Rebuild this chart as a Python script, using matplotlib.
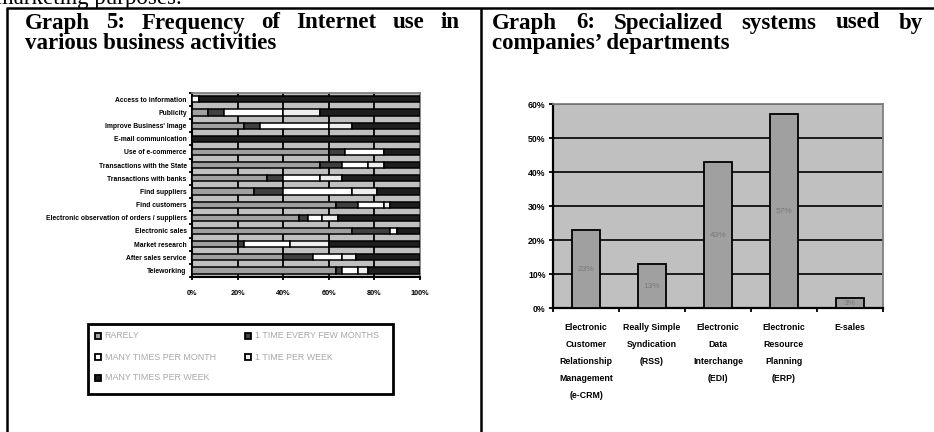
import matplotlib.pyplot as plt
import numpy as np
from matplotlib.lines import Line2D
from matplotlib.patches import Rectangle
from matplotlib.transforms import blended_transform_factory

# Graph 5: how often the internet is used for each business activity (%)
activities = [
    "Access to information",
    "Publicity",
    "Improve Business' Image",
    "E-mail communication",
    "Use of e-commerce",
    "Transactions with the State",
    "Transactions with banks",
    "Find suppliers",
    "Find customers",
    "Electronic observation of orders / suppliers",
    "Electronic sales",
    "Market research",
    "After sales service",
    "Teleworking",
]
freq_labels = [
    "RARELY",
    "1 TIME EVERY FEW MONTHS",
    "MANY TIMES PER MONTH",
    "1 TIME PER WEEK",
    "MANY TIMES PER WEEK",
]
rarely = [0, 7, 23, 0, 60, 56, 33, 27, 63, 47, 70, 20, 40, 63]
few_months = [0, 7, 7, 0, 7, 10, 7, 13, 10, 4, 17, 3, 13, 3]
many_per_month = [3, 26, 30, 0, 17, 11, 16, 30, 11, 6, 3, 20, 13, 7]
once_per_week = [0, 16, 10, 0, 0, 7, 10, 11, 3, 7, 0, 17, 6, 4]
many_per_week = [97, 44, 30, 100, 16, 16, 34, 19, 13, 36, 10, 40, 28, 23]
freq_colors = ["#a0a0a0", "#404040", "#ffffff", "#eeeeee", "#1e1e1e"]

# Graph 6: specialized systems used by departments (%)
systems = [
    "Electronic\nCustomer\nRelationship\nManagement\n(e-CRM)",
    "Really Simple\nSyndication\n(RSS)",
    "Electronic\nData\nInterchange\n(EDI)",
    "Electronic\nResource\nPlanning\n(ERP)",
    "E-sales",
]
system_usage = [23, 13, 43, 57, 3]

W, H = 934, 432


def fx(px):
    return px / W


def fy(py):
    return 1 - py / H


SERIF = "Liberation Serif"
SANS = "Liberation Sans"

fig = plt.figure(figsize=(W / 100, H / 100), dpi=100)


def hline(x0, x1, y, lw=1.8):
    fig.add_artist(Line2D([fx(x0), fx(x1)], [fy(y), fy(y)], transform=fig.transFigure,
                          color="black", lw=lw, solid_capstyle="butt"))


def vline(x, y0, y1, lw=1.8):
    fig.add_artist(Line2D([fx(x), fx(x)], [fy(y0), fy(y1)], transform=fig.transFigure,
                          color="black", lw=lw, solid_capstyle="butt"))


# surrounding document text and table rules
fig.text(fx(-4), fy(4), "marketing purposes.", family=SERIF, fontsize=16.5,
         va="baseline", ha="left")
hline(6, W, 8.3)
vline(7, 8, H)
vline(480.5, 8, H)


def justified(words, x0, x1, y, **kw):
    renderer = fig.canvas.get_renderer()
    texts = [fig.text(0, fy(y), w, va="baseline", ha="left", **kw) for w in words]
    widths = [t.get_window_extent(renderer).width for t in texts]
    gap = (x1 - x0 - sum(widths)) / (len(words) - 1)
    x = x0
    for t, w in zip(texts, widths):
        t.set_x(fx(x))
        x += w + gap


title_kw = dict(family=SERIF, fontsize=16.5, weight="bold")
justified("Graph 5: Frequency of Internet use in".split(), 25, 460, 28.5, **title_kw)
fig.text(fx(25), fy(49), "various business activities", va="baseline", **title_kw)
justified("Graph 6: Specialized systems used by".split(), 492, 923, 28.5, **title_kw)
fig.text(fx(492), fy(49), "companies\u2019 departments", va="baseline", **title_kw)

# ---- Graph 5: stacked horizontal bars ----
ax1 = fig.add_axes([fx(192), fy(277), fx(420) - fx(192), (277 - 92.7) / H])
ax1.set_facecolor("#c0c0c0")
y = np.arange(len(activities))
left = np.zeros(len(activities))
for vals, color in zip([rarely, few_months, many_per_month, once_per_week, many_per_week],
                       freq_colors):
    ax1.barh(y, vals, left=left, height=0.47, color=color, edgecolor="black",
             linewidth=1.1, zorder=3)
    left += np.array(vals)

ax1.set_xlim(0, 100)
ax1.set_ylim(len(activities) - 0.5, -0.5)
ax1.set_xticks(range(0, 101, 20))
ax1.set_xticklabels([f"{v}%" for v in range(0, 101, 20)], family=SANS, weight="bold",
                    fontsize=5.3)
ax1.xaxis.grid(True, color="black", lw=1.3, zorder=1)
ax1.set_axisbelow(True)
ax1.set_yticks(y)
ax1.set_yticklabels(activities, family=SANS, weight="bold", fontsize=4.9)
ax1.set_yticks(np.arange(-0.5, len(activities)), minor=True)
ax1.tick_params(axis="y", which="major", length=0, pad=3.8)
ax1.tick_params(axis="y", which="minor", length=2.2, width=1.3, direction="out")
ax1.tick_params(axis="x", length=2.5, width=1.3, pad=7)
for side in ("left", "bottom"):
    ax1.spines[side].set_linewidth(1.5)
for side in ("top", "right"):
    ax1.spines[side].set_color("#808080")
    ax1.spines[side].set_linewidth(1.3)

# legend drawn as a boxed key under the chart
fig.add_artist(Rectangle((fx(87.5), fy(394)), fx(392.5) - fx(87.5), (394 - 324) / H,
                         transform=fig.transFigure, facecolor="white", edgecolor="black",
                         lw=2))
key_pos = [(97.7, 336), (247.7, 336), (97.7, 357), (247.7, 357), (97.7, 378)]
for (kx, ky), lab, color in zip(key_pos, freq_labels, freq_colors):
    fig.add_artist(Rectangle((fx(kx - 3), fy(ky + 3)), 6 / W, 6 / H,
                             transform=fig.transFigure, facecolor=color,
                             edgecolor="black", lw=1.3))
    fig.text(fx(kx + 7), fy(ky), lab, family=SANS, fontsize=6.4, color="#a8a8a8",
             va="center", ha="left")

# ---- Graph 6: column chart ----
ax2 = fig.add_axes([fx(553.3), fy(308.3), fx(882.7) - fx(553.3), (308.3 - 104) / H])
ax2.set_facecolor("#c0c0c0")
x = np.arange(len(systems))
bars = ax2.bar(x, system_usage, width=0.42, color="#a0a0a0", edgecolor="black",
               linewidth=1.3, zorder=3)
for xi, v in zip(x, system_usage):
    ax2.text(xi, v / 2, f"{v}%", ha="center", va="center", family=SANS, fontsize=6,
             color="#7a7a7a", zorder=4)

ax2.set_xlim(-0.5, len(systems) - 0.5)
ax2.set_ylim(0, 60)
ax2.set_yticks(range(0, 61, 10))
ax2.set_yticklabels([f"{v}%" for v in range(0, 61, 10)], family=SANS, weight="bold",
                    fontsize=6.3)
ax2.yaxis.grid(True, color="black", lw=1.2, zorder=1)
ax2.set_axisbelow(True)
ax2.tick_params(axis="y", length=3, width=1.3, pad=2.5)
ax2.set_xticks(x)
ax2.set_xticklabels([])
ax2.set_xticks(np.arange(-0.5, len(systems)), minor=True)
ax2.tick_params(axis="x", which="major", length=0)
ax2.tick_params(axis="x", which="minor", length=3, width=1.3)
for side in ("left", "bottom"):
    ax2.spines[side].set_linewidth(1.6)
for side in ("top", "right"):
    ax2.spines[side].set_color("#808080")
    ax2.spines[side].set_linewidth(1.3)

# category names stacked one word-group per line with wide spacing
trans = blended_transform_factory(ax2.transData, fig.transFigure)
for xi, name in zip(x, systems):
    for k, line in enumerate(name.split("\n")):
        ax2.text(xi, fy(327.3 + 17.1 * k), line, transform=trans, ha="center",
                 va="center", family=SANS, weight="bold", fontsize=6.3)

fig.savefig("out.png", dpi=100)
